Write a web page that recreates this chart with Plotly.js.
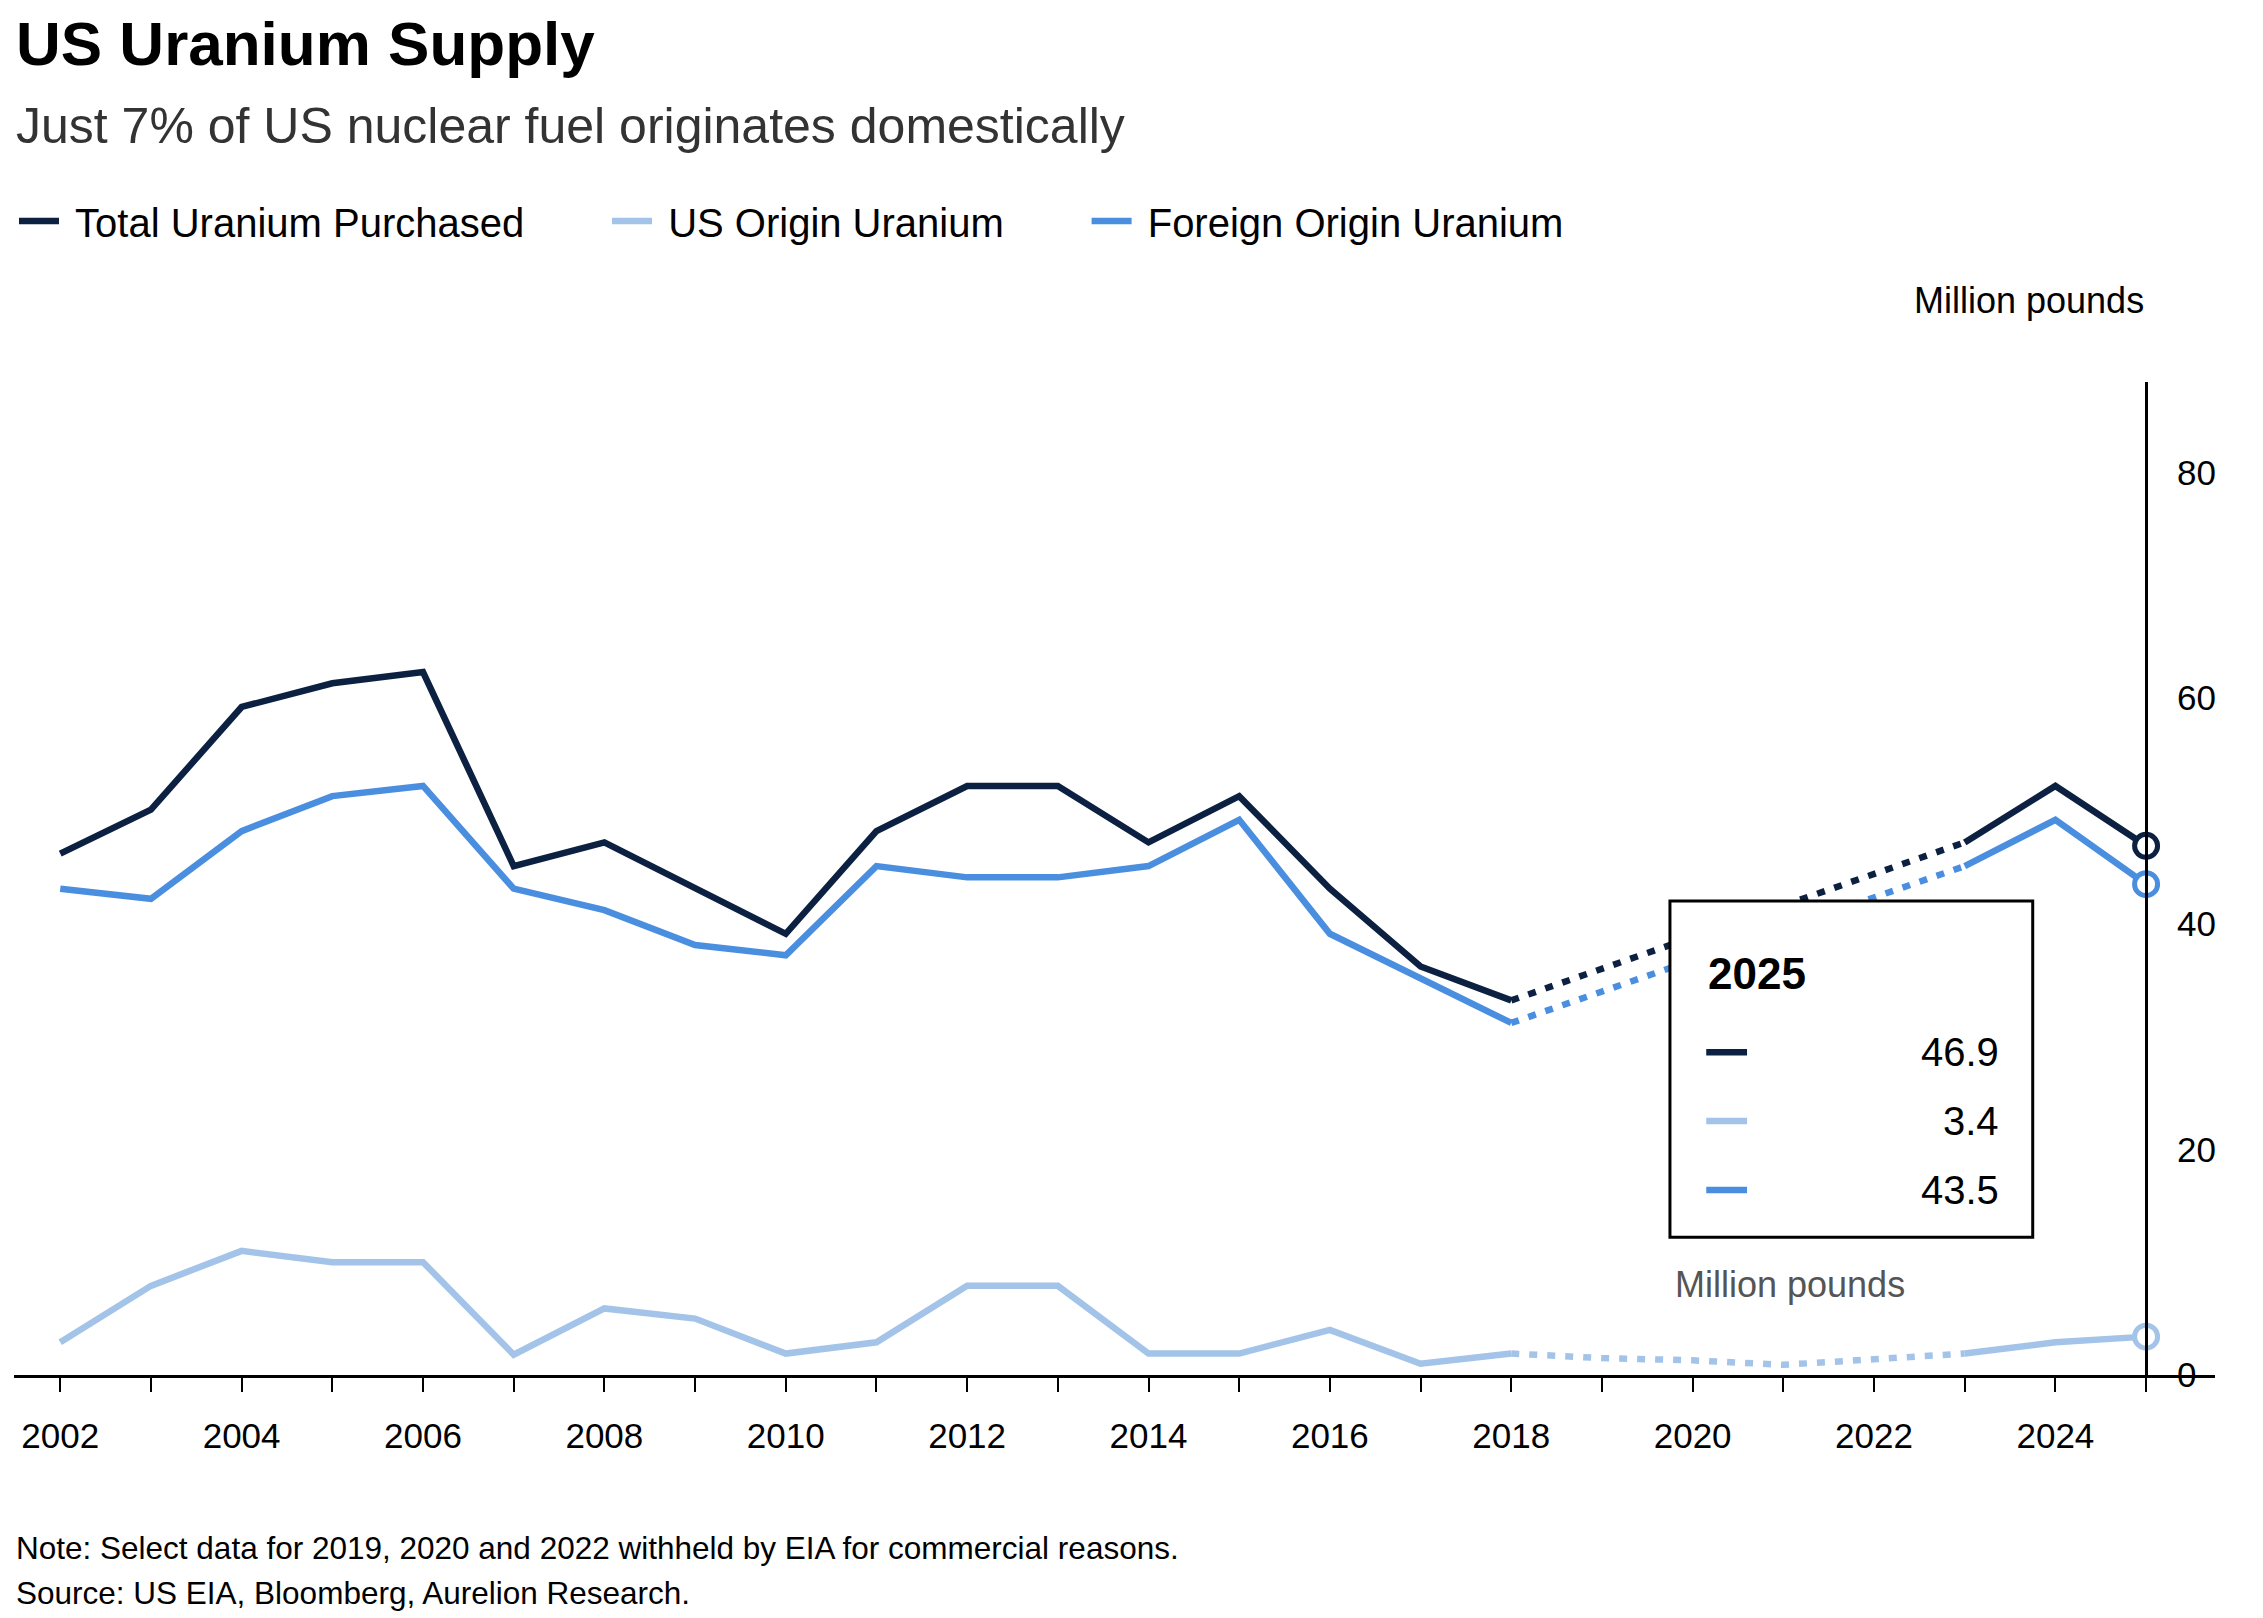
<!DOCTYPE html>
<html>
<head>
<meta charset="utf-8">
<script src="https://cdn.plot.ly/plotly-3.0.1.min.js"></script>
<style>body{margin:0;background:#fff}#chart{width:2263px;height:1618px}</style>
</head>
<body>
<div id="chart"></div>
<script>
let years = [];
for (let y = 2002; y <= 2025; y++) years.push(y);

// 2019-2022 withheld: solid lines get gaps, dotted lines bridge them
let totalSolid   = [46.2,50.1,59.2,61.3,62.3,45.1,47.2,43.1,39.1,48.2,52.2,52.2,47.2,51.3,43.1,36.2,33.2,null,null,null,null,47.2,52.2,46.9];
let foreignSolid = [43.1,42.2,48.2,51.3,52.2,43.1,41.2,38.1,37.2,45.1,44.1,44.1,45.1,49.2,39.1,35.1,31.2,null,null,null,null,45.1,49.2,43.5];
let usSolid      = [2.9,7.9,11.0,10.0,10.0,1.8,5.9,5.0,1.9,2.9,7.9,7.9,1.9,1.9,4.0,1.0,1.9,null,null,null,null,1.9,2.9,3.4];

let gapYears   = [2018,2019,2020,2021,2022,2023];
let totalGap   = [33.2,null,null,null,null,47.2];
let foreignGap = [31.2,null,null,null,null,45.1];
let usGap      = [1.9,1.5,1.3,0.9,1.4,1.9];

let names  = ['Total Uranium Purchased','US Origin Uranium','Foreign Origin Uranium'];
let colors = ['#0c2142','#a3c4e8','#4a8ee0'];
let last   = [46.9, 3.4, 43.5];

let pad = '&nbsp;&nbsp;&nbsp;&nbsp;&nbsp;&nbsp;&nbsp;';
let W = 6.5;
let traces = [];
[totalSolid, usSolid, foreignSolid].forEach((s, i) => {
  traces.push({x: years, y: s, name: '&nbsp;' + names[i] + (i < 2 ? pad : ''), mode: 'lines', line: {color: colors[i], width: W}});
});
[totalGap, usGap, foreignGap].forEach((s, i) => {
  traces.push({x: gapYears, y: s, mode: 'lines', connectgaps: true, showlegend: false,
    line: {color: colors[i], width: W, dash: '8px,10px'}});
});
last.forEach((v, i) => {
  traces.push({x: [2025], y: [v], mode: 'markers', showlegend: false,
    marker: {size: 23, color: '#fff', line: {color: colors[i], width: 5}}});
});

let tickText = years.map(y => y % 2 === 0 ? String(y) : '');

let font = {family: 'Liberation Sans, Arial, sans-serif', color: '#000'};
let L = 14, R = 48, T = 382, B = 243, PW = 2263 - L - R, PH = 1618 - T - B;
let ann = [
  {text: '<b>US Uranium Supply</b>', x: 14, y: 43, size: 62},
  {text: 'Just 7% of US nuclear fuel originates domestically', x: 14, y: 126, size: 50, color: '#333'},
  {text: 'Million pounds', x: 2146, y: 300, size: 36, xanchor: 'right'},
  {text: 'Note: Select data for 2019, 2020 and 2022 withheld by EIA for commercial reasons.', x: 14, y: 1548, size: 31.5},
  {text: 'Source: US EIA, Bloomberg, Aurelion Research.', x: 14, y: 1593, size: 31.5}
].map(a => ({
  text: a.text, xref: 'paper', yref: 'paper', showarrow: false,
  x: (a.x - L) / PW, y: (1618 - B - a.y) / PH,
  xanchor: a.xanchor || 'left', yanchor: 'middle',
  font: Object.assign({}, font, {size: a.size, color: a.color || '#000'})
}));

// 2025 values box (data coordinates)
let boxAnn = [
  {text: '<b>2025</b>', x: 2020.15, y: 35.6, size: 44, xanchor: 'left'},
  {text: 'Million pounds', x: 2019.78, y: 8.0, size: 36, xanchor: 'left', color: '#555'}
];
last.forEach((v, i) => {
  boxAnn.push({text: v.toFixed(1), x: 2023.4, y: 28.6 - i * 6.1, size: 40, xanchor: 'right'});
});
boxAnn.forEach(a => ann.push({
  text: a.text, x: a.x, y: a.y, xref: 'x', yref: 'y', showarrow: false,
  xanchor: a.xanchor, yanchor: 'middle',
  font: Object.assign({}, font, {size: a.size, color: a.color || '#000'})
}));

let shapes = [
  {type: 'rect', xref: 'x', yref: 'y', x0: 2019.75, x1: 2023.75, y0: 12.2, y1: 42.0,
   fillcolor: '#fff', line: {color: '#000', width: 3}, layer: 'above'}
];
last.forEach((v, i) => {
  shapes.push({type: 'line', xref: 'x', yref: 'y', x0: 2020.15, x1: 2020.6,
    y0: 28.6 - i * 6.1, y1: 28.6 - i * 6.1, line: {color: colors[i], width: 6.5}, layer: 'above'});
});

let layout = {
  width: 2263, height: 1618,
  margin: {l: L, r: R, t: T, b: B},
  paper_bgcolor: '#fff', plot_bgcolor: '#fff',
  font: font,
  showlegend: true,
  legend: {orientation: 'h', x: 0, xanchor: 'left', y: (1618 - B - 221) / PH, yanchor: 'middle',
    font: {size: 40, family: font.family, color: '#000'}, itemwidth: 40, tracegroupgap: 0},
  xaxis: {range: [2001.49, 2025.76], tickvals: years, ticktext: tickText,
    ticks: 'outside', ticklen: 14, tickwidth: 2, tickcolor: '#000',
    showline: true, linecolor: '#000', linewidth: 3, showgrid: false, zeroline: false,
    tickfont: {size: 35}, ticklabelstandoff: 14, fixedrange: true},
  yaxis: {range: [0, 88], side: 'right', anchor: 'free', position: (2025 - 2001.49) / (2025.76 - 2001.49),
    tickvals: [0, 20, 40, 60, 80], showline: true, linecolor: '#000', linewidth: 3,
    ticks: '', showgrid: false, zeroline: false, tickfont: {size: 35}, ticklabelstandoff: 22},
  annotations: ann,
  shapes: shapes
};

Plotly.newPlot('chart', traces, layout, {staticPlot: true});
</script>
</body>
</html>
